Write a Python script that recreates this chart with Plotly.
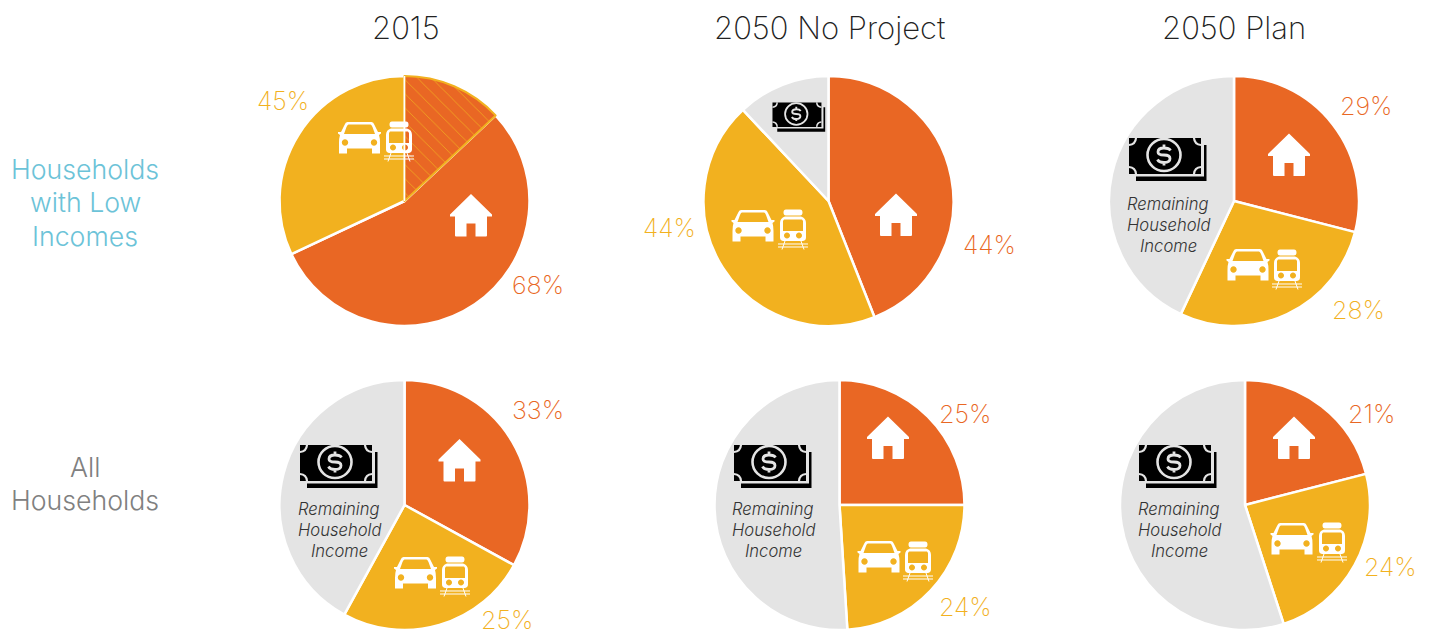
import plotly.graph_objects as go
import re

W, H = 1431, 633
ORANGE, YELLOW, GRAY = "#E96724", "#F2B11F", "#E4E4E4"
FONT = "Inter"

# Values (percent of income)
low_2015_housing_only = 55
low_2015_transport_only = 32
low_2015_overlap = 13
housing = [44, 29, 33, 25, 21]
transport = [44, 28, 25, 24, 24]
remaining = [12, 43, 42, 51, 55]
titles = ["2015", "2050 No Project", "2050 Plan"]
row_low = ["Households", "with Low", "Incomes"]
row_all = ["All", "Households"]
label_low_2015 = [45, 68]
remaining_label = ["Remaining", "Household", "Income"]

R = 125
centers = [(404.5, 201), (828.5, 201), (1234, 201), (404.5, 505), (839.5, 505), (1245, 505)]

def dom(c):
    cx, cy = c
    return dict(x=[(cx - R) / W, (cx + R) / W], y=[1 - (cy + R) / H, 1 - (cy - R) / H])

fig = go.Figure()
fig.add_trace(go.Pie(
    values=[low_2015_housing_only, low_2015_transport_only, low_2015_overlap],
    sort=False, direction="clockwise", rotation=low_2015_overlap * 3.6,
    domain=dom(centers[0]), textinfo="none", hoverinfo="skip", showlegend=False,
    marker=dict(
        colors=[ORANGE, YELLOW, ORANGE],
        line=dict(color=["#FFFFFF", "#FFFFFF", YELLOW], width=[2.5, 2.5, 2]),
        pattern=dict(shape=["", "", "\\"], fgcolor=YELLOW, bgcolor=ORANGE, size=10, solidity=0.07),
    ),
))
for i in range(5):
    fig.add_trace(go.Pie(
        values=[housing[i], transport[i], remaining[i]], sort=False, direction="clockwise", rotation=0,
        domain=dom(centers[i + 1]), textinfo="none", hoverinfo="skip", showlegend=False,
        marker=dict(colors=[ORANGE, YELLOW, GRAY], line=dict(color="#FFFFFF", width=2.5)),
    ))

shapes = []

K = 0.5523
def ell(cx, cy, rx, ry):
    kx, ky = K * rx, K * ry
    return (f"M{cx - rx},{cy} C{cx - rx},{cy - ky} {cx - kx},{cy - ry} {cx},{cy - ry} "
            f"C{cx + kx},{cy - ry} {cx + rx},{cy - ky} {cx + rx},{cy} "
            f"C{cx + rx},{cy + ky} {cx + kx},{cy + ry} {cx},{cy + ry} "
            f"C{cx - kx},{cy + ry} {cx - rx},{cy + ky} {cx - rx},{cy} Z ")

def circ(cx, cy, r):
    return ell(cx, cy, r, r)

def place(path, cx, cy, s=1.0):
    """Move an icon outline given around (0,0), in pixels, onto the page."""
    out = []
    tokens = re.findall(r"[MLQCZ]|-?\d+\.?\d*", path)
    i = 0
    while i < len(tokens):
        t = tokens[i]
        if t in "MLQCZ":
            out.append(t)
            i += 1
            continue
        x, y = float(tokens[i]), float(tokens[i + 1])
        i += 2
        out.append(f"{(cx + x * s) / W:.6f},{1 - (cy + y * s) / H:.6f}")
    return " ".join(out)

def add_path(path, cx, cy, s=1.0, fill="#FFFFFF", line=None, lw=0):
    shapes.append(dict(
        type="path", xref="paper", yref="paper", path=place(path, cx, cy, s), layer="above",
        fillcolor=fill if fill else "rgba(0,0,0,0)", fillrule="evenodd",
        line=dict(color=line or "rgba(0,0,0,0)", width=lw),
    ))

HOUSE = ("M0,-21.5 L21,-1 L21,1 L16,1 L16,20 Q16,21 15,21 L4.5,21 L4.5,8 L-4.5,8 L-4.5,21 L-15,21 "
         "Q-16,21 -16,20 L-16,1 L-21,1 L-21,-1 Z")
CAR = ("M-12,-16 L12,-16 Q14,-16 15,-13 L18.5,-6 L21.5,-6 L21.5,-4.5 L19.5,-3 Q20.5,0 20.5,5 L20.5,15.5 L12.5,15.5 L12.5,10.5 "
       "L-12.5,10.5 L-12.5,15.5 L-20.5,15.5 L-20.5,5 Q-20.5,0 -19.5,-3 L-21.5,-4.5 L-21.5,-6 L-18.5,-6 L-15,-13 Q-14,-16 -12,-16 Z "
       "M-11,-13.5 L11,-13.5 Q12,-13.5 13,-11 L15.5,-4 L-15.5,-4 L-13,-11 Q-12,-13.5 -11,-13.5 Z "
       + circ(-14.5, 4.5, 3.2) + circ(14.5, 4.5, 3.2))
TRAIN = ("M-7,-19.5 L7,-19.5 Q9.5,-19.5 9.5,-16.5 Q9.5,-13.5 7,-13.5 L-7,-13.5 Q-9.5,-13.5 -9.5,-16.5 Q-9.5,-19.5 -7,-19.5 Z "
         "M-8,-12.5 L8,-12.5 Q13,-11 13,-6 L13,8.5 Q13,11.5 10,12 L-10,12 Q-13,11.5 -13,8.5 L-13,-6 Q-13,-11 -8,-12.5 Z "
         "M-9,-9.5 L9,-9.5 L10,-8 L10,2 L-10,2 L-10,-8 Z "
         + circ(-6, 6.5, 3) + circ(6, 6.5, 3))
TRAIN_RAIL = "M-8,12 L-11,20.5 M8,12 L11,20.5 M-15,15 L15,15 M-15,18 L15,18"
BILL = "M-39,-20 L33,-20 L33,16 L-39,16 Z"
BILL_CORNERS = ("M-32,-20 Q-32.5,-13.5 -39,-13 M26,-20 Q26.5,-13.5 33,-13 "
                "M-32,16 Q-32.5,9.5 -39,9 M26,16 Q26.5,9.5 33,9")
BILL_RING = ell(-4, -3, 16.5, 16)
BILL_BACK = "M36,-13 L38.5,-13 L38.5,23 L-32,23 L-32,18.5 L36,18.5 Z"
DOLLAR = ("M2.5,-7.5 Q1,-10 -4,-10 Q-10,-10 -10,-6 Q-10,-3 -4,-3 Q2,-3 2,0.5 Q2,4.5 -4,4.5 Q-9,4.5 -10.5,1.5 "
          "M-4,-13.5 L-4,-10 M-4,4.5 L-4,7.5")

def house(cx, cy): add_path(HOUSE, cx, cy)
def car(cx, cy): add_path(CAR, cx, cy)
def train(cx, cy):
    add_path(TRAIN, cx, cy)
    add_path(TRAIN_RAIL, cx, cy, fill=None, line="#FFFFFF", lw=1)
def money(cx, cy, s=1.0):
    add_path(BILL_BACK, cx, cy, s, fill="#000000")
    add_path(BILL, cx, cy, s, fill="#000000")
    add_path(BILL_CORNERS, cx, cy, s, fill=None, line=GRAY, lw=2.2 * s)
    add_path(BILL_RING, cx, cy, s, fill=None, line=GRAY, lw=2.6 * s)
    add_path(DOLLAR, cx, cy, s, fill=None, line=GRAY, lw=2.8 * s)

# White edge between the hatched wedge and the yellow slice of the first pie
cx0, cy0 = centers[0]
shapes.append(dict(type="line", xref="paper", yref="paper", layer="above",
                   x0=cx0 / W, x1=cx0 / W, y0=1 - cy0 / H, y1=1 - (cy0 - R) / H,
                   line=dict(color="#FFFFFF", width=1.5)))

for p in [(471, 215.5), (896, 215), (1289, 155), (459.5, 460.5), (888, 438), (1294, 438)]:
    house(*p)
for p in [(359.5, 138), (753, 226), (1248, 265), (415.5, 573), (879, 557), (1292, 539)]:
    car(*p)
for p in [(399, 141), (793, 229), (1287, 269), (455, 576), (918, 561), (1332, 542)]:
    train(*p)
money(799, 116, 0.68)
for p in [(1168, 158), (339, 465), (773, 465), (1178, 465)]:
    money(*p)

ann = []
def text(t, x, y, size, color, style="normal", weight=200):
    ann.append(dict(text=t, x=x / W, y=1 - y / H, xref="paper", yref="paper", showarrow=False,
                    xanchor="center", yanchor="middle",
                    font=dict(family=FONT, size=size, color=color, style=style, weight=weight)))

for t, x in zip(titles, [406, 829, 1234]):
    text(t, x, 27.5, 31, "#222222")
for t, y in zip(row_low, [169.5, 202.5, 235.5]):
    text(t, 85, y, 26.7, "#6CC3D8", weight=300)
for t, y in zip(row_all, [466.5, 499.5]):
    text(t, 85, y, 26.7, "#808080", weight=300)

pct = [
    (label_low_2015[0], 282.5, 101, YELLOW), (label_low_2015[1], 537.5, 285, ORANGE),
    (housing[0], 989, 245, ORANGE), (transport[0], 669, 228, YELLOW),
    (housing[1], 1366, 106, ORANGE), (transport[1], 1358, 310, YELLOW),
    (housing[2], 537.5, 410, ORANGE), (transport[2], 507, 619.5, YELLOW),
    (housing[3], 965, 414, ORANGE), (transport[3], 965.5, 607, YELLOW),
    (housing[4], 1371, 414, ORANGE), (transport[4], 1390, 567, YELLOW),
]
for v, x, y, c in pct:
    text(f"{v}%", x, y, 25, c)

for x, ys in [(1168, [204, 225, 246]), (339, [509, 530, 551]), (773, [509, 530, 551]), (1179, [509, 530, 551])]:
    for t, y in zip(remaining_label, ys):
        text(t, x, y, 16.6, "#333333", style="italic", weight=300)

fig.update_layout(
    width=W, height=H, margin=dict(l=0, r=0, t=0, b=0), paper_bgcolor="white", plot_bgcolor="white",
    showlegend=False, shapes=shapes, annotations=ann,
)
fig.write_html("out.html", config=dict(displayModeBar=False),
               post_script="document.body.style.margin='0';document.documentElement.style.overflow='hidden';")
